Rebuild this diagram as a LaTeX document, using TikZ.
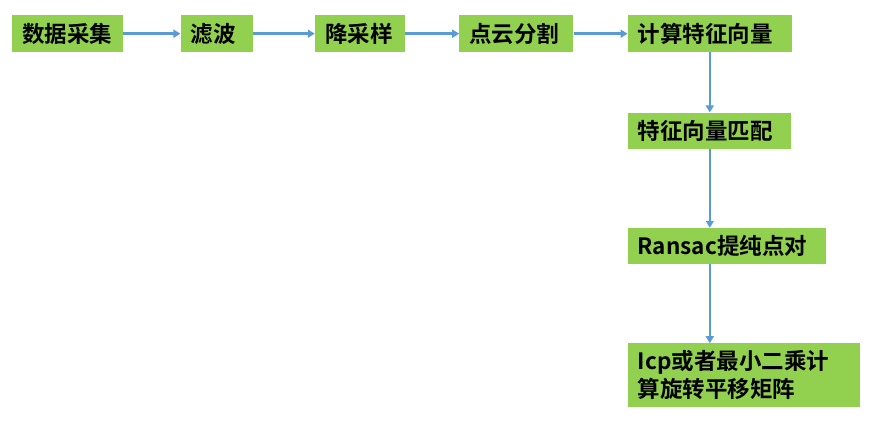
\documentclass[tikz,border=0pt]{standalone}
\usepackage{fontspec}
\usepackage{tikz}
\usetikzlibrary{arrows.meta, positioning, calc}
\newfontfamily\cjk{Noto Sans CJK SC}[BoldFont={Noto Sans CJK SC Bold}]
\definecolor{StageFill}{HTML}{92D050}
\definecolor{FlowInk}{HTML}{5B9BD5}
\definecolor{StageInk}{HTML}{000000}

\begin{document}
\begin{tikzpicture}[
  x=1pt, y=-1pt,
  stage/.style={
    fill=StageFill,
    text=StageInk,
    inner xsep=10pt,
    inner ysep=0pt,
    align=left,
    font=\cjk\bfseries\fontsize{22.5}{28}\selectfont,
    minimum height=37pt,
  },
  flow/.style={
    -{Triangle[length=7pt, width=8pt]},
    FlowInk,
    line width=2.6pt,
  },
]
  \useasboundingbox (0,0) rectangle (877,428);

  % top row
  \node[stage, text width=91pt, anchor=north west] (collect) at (12,15) {数据采集};
  \node[stage, text width=52pt, right=57pt of collect] (filter) {滤波};
  \node[stage, text width=70pt, right=62pt of filter] (downsample) {降采样};
  \node[stage, text width=94pt, right=54pt of downsample] (segment) {点云分割};
  \node[stage, text width=144pt, right=54pt of segment] (feature) {计算特征向量};

  % right column
  \node[
    stage,
    text width=143pt,
    minimum height=36pt,
    below=60pt of feature.south west,
    anchor=north west,
  ] (match) {特征向量匹配};
  \node[
    stage,
    text width=178pt,
    minimum height=36pt,
    below=79pt of match.south west,
    anchor=north west,
  ] (ransac) {Ransac提纯点对};
  \node[
    stage,
    text width=212pt,
    minimum height=64pt,
    below=79pt of ransac.south west,
    anchor=north west,
  ] (solve) {Icp或者最小二乘计\\算旋转平移矩阵};

  \draw[flow] (collect) -- (filter);
  \draw[flow] (filter) -- (downsample);
  \draw[flow] (downsample) -- (segment);
  \draw[flow] (segment) -- (feature);
  \draw[flow] (feature.south) -- (feature.south |- match.north);
  \draw[flow] (feature.south |- match.south) -- (feature.south |- ransac.north);
  \draw[flow] (feature.south |- ransac.south) -- (feature.south |- solve.north);
\end{tikzpicture}
\end{document}
